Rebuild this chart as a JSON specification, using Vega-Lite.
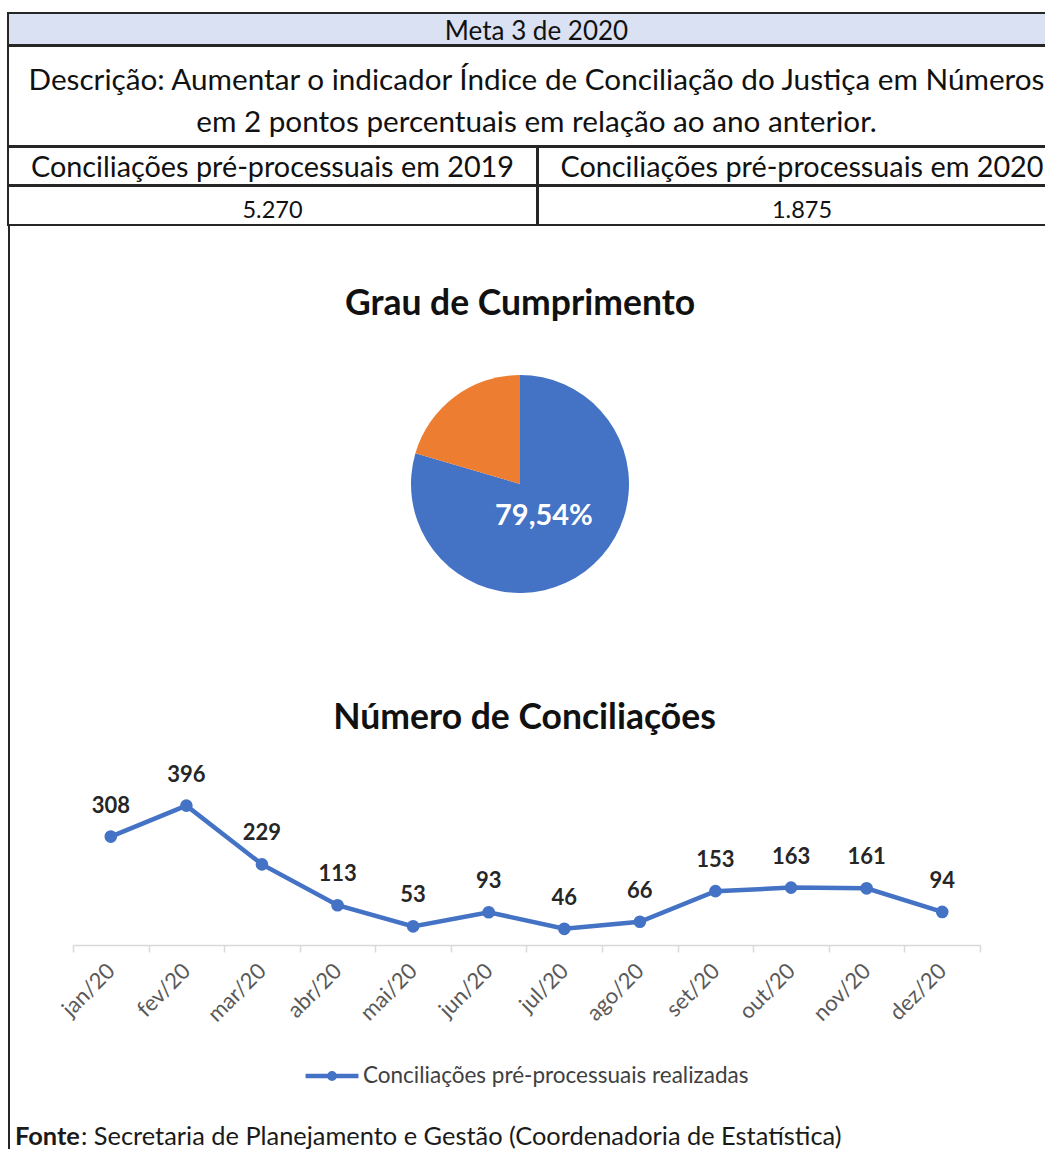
{
  "$schema": "https://vega.github.io/schema/vega-lite/v6.json",
  "background": "white",
  "padding": {"left": 7, "top": 12, "right": 0, "bottom": 0},
  "spacing": -2,
  "config": {
    "font": "Lato",
    "text": {"font": "Lato", "color": "#111111"}
  },
  "vconcat": [
    {
      "width": 1057, "height": 32,
      "view": {"fill": "#D9E1F2", "stroke": "#262626", "strokeWidth": 2},
      "data": {"values": [{"texto": "Meta 3 de 2020"}]},
      "mark": {"type": "text", "fontSize": 26, "dy": 3},
      "encoding": {"text": {"field": "texto"}}
    },
    {
      "width": 1057, "height": 100,
      "view": {"stroke": "#262626", "strokeWidth": 2},
      "data": {"values": [{"texto": "Descrição: Aumentar o indicador Índice de Conciliação do Justiça em Números\nem 2 pontos percentuais em relação ao ano anterior."}]},
      "mark": {"type": "text", "fontSize": 29.7, "lineBreak": "\n", "lineHeight": 42, "dy": -15},
      "encoding": {"text": {"field": "texto"}}
    },
    {
      "hconcat": [
        {
          "width": 529, "height": 38,
          "view": {"stroke": "#262626", "strokeWidth": 2},
          "data": {"values": [{"texto": "Conciliações pré-processuais em 2019"}]},
          "mark": {"type": "text", "fontSize": 28.8, "dy": 2},
          "encoding": {"text": {"field": "texto"}}
        },
        {
          "width": 528, "height": 38,
          "view": {"stroke": "#262626", "strokeWidth": 2},
          "data": {"values": [{"texto": "Conciliações pré-processuais em 2020"}]},
          "mark": {"type": "text", "fontSize": 28.8, "dy": 2},
          "encoding": {"text": {"field": "texto"}}
        }
      ],
      "spacing": -2
    },
    {
      "hconcat": [
        {
          "width": 529, "height": 39,
          "view": {"stroke": "#262626", "strokeWidth": 2},
          "data": {"values": [{"texto": "5.270"}]},
          "mark": {"type": "text", "fontSize": 23.5, "dy": 5},
          "encoding": {"text": {"field": "texto"}}
        },
        {
          "width": 528, "height": 39,
          "view": {"stroke": "#262626", "strokeWidth": 2},
          "data": {"values": [{"texto": "1.875"}]},
          "mark": {"type": "text", "fontSize": 23.5, "dy": 5},
          "encoding": {"text": {"field": "texto"}}
        }
      ],
      "spacing": -2
    },
    {
      "hconcat": [
        {
          "width": 2, "height": 880,
          "view": {"fill": "#262626", "stroke": null},
          "data": {"values": [{}]},
          "mark": "text",
          "encoding": {}
        },
        {
          "vconcat": [
            {
              "width": 894, "height": 149,
              "view": {"stroke": null},
              "data": {"values": [{"titulo": "Grau de Cumprimento"}]},
              "mark": {"type": "text", "fontSize": 35.5, "fontWeight": "bold", "color": "#111111", "dy": 3},
              "encoding": {"text": {"field": "titulo"}}
            },
            {
              "width": 894, "height": 218,
              "view": {"stroke": null},
              "data": {"values": [
                {"categoria": "Cumprido", "percentual": 79.54, "rotulo": "79,54%"},
                {"categoria": "Não cumprido", "percentual": 20.46, "rotulo": ""}
              ]},
              "encoding": {
                "theta": {"field": "percentual", "type": "quantitative", "stack": true},
                "order": {"field": "percentual", "type": "quantitative", "sort": "descending"},
                "color": {"field": "categoria", "type": "nominal", "scale": {"domain": ["Cumprido", "Não cumprido"], "range": ["#4472C4", "#ED7D31"]}, "legend": null}
              },
              "layer": [
                {
                  "mark": {"type": "arc", "outerRadius": 109}
                },
                {
                  "mark": {"type": "text", "radius": 40, "fontSize": 29, "fontWeight": "bold"},
                  "encoding": {
                    "text": {"field": "rotulo"},
                    "fill": {"value": "#FFFFFF"}
                  }
                }
              ]
            },
            {
              "width": 903, "height": 170,
              "view": {"stroke": null},
              "data": {"values": [{"titulo": "Número de Conciliações"}]},
              "mark": {"type": "text", "fontSize": 35.5, "fontWeight": "bold", "color": "#111111", "dy": 39.5},
              "encoding": {"text": {"field": "titulo"}}
            },
            {
              "width": 907, "height": 176,
              "view": {"stroke": null},
              "data": {"values": [
                {"mes": "jan/20", "valor": 308, "serie": "Conciliações pré-processuais realizadas"},
                {"mes": "fev/20", "valor": 396, "serie": "Conciliações pré-processuais realizadas"},
                {"mes": "mar/20", "valor": 229, "serie": "Conciliações pré-processuais realizadas"},
                {"mes": "abr/20", "valor": 113, "serie": "Conciliações pré-processuais realizadas"},
                {"mes": "mai/20", "valor": 53, "serie": "Conciliações pré-processuais realizadas"},
                {"mes": "jun/20", "valor": 93, "serie": "Conciliações pré-processuais realizadas"},
                {"mes": "jul/20", "valor": 46, "serie": "Conciliações pré-processuais realizadas"},
                {"mes": "ago/20", "valor": 66, "serie": "Conciliações pré-processuais realizadas"},
                {"mes": "set/20", "valor": 153, "serie": "Conciliações pré-processuais realizadas"},
                {"mes": "out/20", "valor": 163, "serie": "Conciliações pré-processuais realizadas"},
                {"mes": "nov/20", "valor": 161, "serie": "Conciliações pré-processuais realizadas"},
                {"mes": "dez/20", "valor": 94, "serie": "Conciliações pré-processuais realizadas"}
              ]},
              "encoding": {
                "x": {
                  "field": "mes", "type": "ordinal", "sort": null,
                  "scale": {"type": "band", "paddingInner": 0, "paddingOuter": 0},
                  "axis": {
                    "title": null, "labelAngle": -45, "labelAlign": "right", "labelBaseline": "middle",
                    "labelFontSize": 22, "labelColor": "#595959", "labelFont": "Lato", "labelPadding": 15,
                    "labelOverlap": false, "tickBand": "extent", "tickColor": "#D9D9D9", "tickSize": 7,
                    "tickWidth": 1.5, "domainColor": "#D9D9D9", "domainWidth": 1.5, "grid": false
                  }
                },
                "y": {
                  "field": "valor", "type": "quantitative", "scale": {"domain": [0, 500]},
                  "axis": {"title": null, "labels": false, "ticks": false, "domain": false, "grid": false, "minExtent": 63, "maxExtent": 63}
                }
              },
              "layer": [
                {
                  "mark": {"type": "line", "strokeWidth": 4.5, "point": {"size": 160, "filled": true}},
                  "encoding": {
                    "color": {
                      "field": "serie",
                      "type": "nominal",
                      "scale": {"range": ["#4472C4"]},
                      "legend": {
                        "orient": "none", "legendX": 230, "legendY": 278, "title": null,
                        "symbolType": "M-1,0L1,0M-0.1,0A0.1,0.1,0,1,0,0.1,0A0.1,0.1,0,1,0,-0.1,0",
                        "symbolSize": 2800, "symbolStrokeWidth": 4.5,
                        "symbolFillColor": "#4472C4", "symbolStrokeColor": "#4472C4",
                        "labelFontSize": 22.5, "labelColor": "#404040", "labelFont": "Lato", "labelOffset": 2,
                        "labelLimit": 700
                      }
                    }
                  }
                },
                {
                  "mark": {"type": "text", "dy": -31, "fontSize": 22, "fontWeight": "bold", "color": "#262626"},
                  "encoding": {"text": {"field": "valor"}}
                }
              ]
            }
          ],
          "spacing": 0,
          "resolve": {"scale": {"color": "independent"}, "legend": {"color": "independent"}}
        }
      ],
      "spacing": 0
    },
    {
      "hconcat": [
        {
          "width": 2, "height": 61,
          "view": {"fill": "#262626", "stroke": null},
          "data": {"values": [{}]},
          "mark": "text",
          "encoding": {}
        },
        {
          "width": 10, "height": 61,
          "view": {"stroke": null},
          "data": {"values": [{"texto": "Fonte"}]},
          "mark": {"type": "text", "fontSize": 25.4, "fontWeight": "bold", "align": "left", "color": "#1a1a1a"},
          "encoding": {"text": {"field": "texto"}}
        },
        {
          "width": 2, "height": 61,
          "view": {"stroke": null},
          "data": {"values": [{"texto": ": Secretaria de Planejamento e Gestão (Coordenadoria de Estatística)"}]},
          "mark": {"type": "text", "fontSize": 25.4, "align": "left", "color": "#1a1a1a"},
          "encoding": {"text": {"field": "texto"}}
        }
      ],
      "spacing": -1
    }
  ]
}
